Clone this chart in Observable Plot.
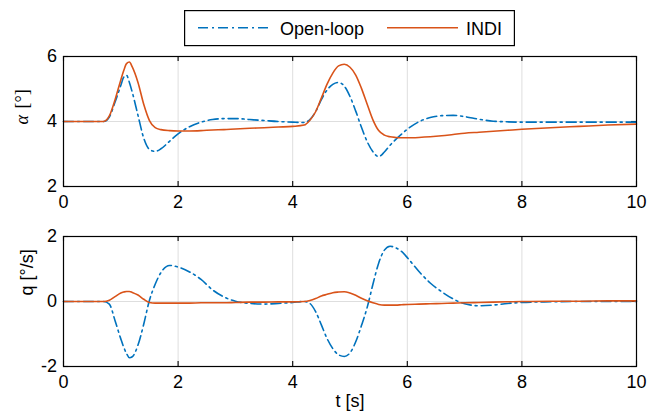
<!DOCTYPE html>
<html>
<head>
<meta charset="utf-8">
<script src="https://cdn.jsdelivr.net/npm/d3@7"></script>
<script src="https://cdn.jsdelivr.net/npm/@observablehq/plot@0.6"></script>
<style>
  html, body { margin: 0; padding: 0; background: #fff; }
  #wrap { position: relative; width: 660px; height: 414px; overflow: hidden; }
  #wrap > svg.panel { position: absolute; left: 0; margin: 0; }
  #wrap > svg#legend { position: absolute; left: 184px; top: 10px; }
</style>
</head>
<body>
<div id="wrap"></div>
<script>
// Time samples [s]
const time = [0, 0.7, 0.8, 0.9, 1.0, 1.05, 1.1, 1.15, 1.2, 1.3, 1.4, 1.5, 1.6, 1.7, 1.85, 2.0, 2.2, 2.4, 2.6, 2.8, 3.0, 3.25, 3.5, 3.75,
  4.0, 4.2, 4.3, 4.4, 4.5, 4.6, 4.7, 4.8, 4.9, 5.0, 5.1, 5.2, 5.3, 5.4, 5.5, 5.6, 5.7, 5.8, 5.9, 6.0,
  6.2, 6.4, 6.6, 6.8, 7.0, 7.25, 7.5, 7.75, 8.0, 8.5, 9.0, 9.5, 10.0];

// Angle of attack alpha [deg]
const alphaOpenLoop = [4.00, 4.00, 4.14, 4.60, 5.11, 5.36, 5.42, 5.20, 4.90, 4.19, 3.49, 3.14, 3.08, 3.16, 3.39, 3.62, 3.84, 3.98, 4.06, 4.09, 4.09, 4.06, 4.03, 4.00,
  3.98, 3.97, 4.06, 4.30, 4.67, 4.97, 5.14, 5.20, 5.09, 4.77, 4.32, 3.82, 3.38, 3.07, 2.92, 3.06, 3.27, 3.45, 3.61, 3.76,
  3.99, 4.12, 4.18, 4.19, 4.15, 4.07, 4.01, 3.99, 3.98, 3.98, 3.98, 3.98, 3.98];
const alphaIndi = [4.00, 4.00, 4.17, 4.67, 5.28, 5.56, 5.78, 5.83, 5.68, 5.20, 4.53, 4.03, 3.81, 3.75, 3.72, 3.71, 3.71, 3.72, 3.74, 3.75, 3.77, 3.79, 3.81, 3.83,
  3.85, 3.89, 4.04, 4.30, 4.72, 5.15, 5.49, 5.71, 5.76, 5.67, 5.43, 5.02, 4.53, 4.05, 3.72, 3.58, 3.53, 3.51, 3.50, 3.50,
  3.51, 3.53, 3.56, 3.60, 3.64, 3.67, 3.70, 3.73, 3.76, 3.81, 3.85, 3.89, 3.92];

// Pitch rate q [deg/s]
const qOpenLoop = [0.00, 0.00, -0.08, -0.59, -1.15, -1.40, -1.60, -1.73, -1.70, -1.34, -0.70, 0.04, 0.53, 0.89, 1.11, 1.06, 0.91, 0.68, 0.36, 0.14, 0.01, -0.06, -0.08, -0.06,
  -0.03, 0.00, -0.06, -0.31, -0.72, -1.14, -1.45, -1.64, -1.69, -1.58, -1.24, -0.74, -0.18, 0.53, 1.18, 1.58, 1.70, 1.65, 1.54, 1.35,
  0.93, 0.57, 0.30, 0.08, -0.07, -0.13, -0.11, -0.06, -0.03, -0.01, 0.00, 0.00, 0.00];
const qIndi = [0.00, 0.00, 0.04, 0.15, 0.26, 0.29, 0.31, 0.31, 0.28, 0.20, 0.07, -0.03, -0.05, -0.05, -0.05, -0.05, -0.05, -0.04, -0.04, -0.04, -0.03, -0.02, -0.02, -0.01,
  -0.01, 0.00, 0.03, 0.09, 0.17, 0.22, 0.27, 0.29, 0.30, 0.26, 0.19, 0.10, 0.02, -0.04, -0.09, -0.11, -0.11, -0.11, -0.10, -0.09,
  -0.08, -0.07, -0.06, -0.05, -0.04, -0.03, -0.02, -0.01, 0.00, 0.01, 0.01, 0.02, 0.02];

// Series, axis ticks
const seriesNames = ["Open-loop", "INDI"];
const seriesColors = ["#0072BD", "#D95319"];
const xTicks = [0, 2, 4, 6, 8, 10];
const alphaTicks = [2, 4, 6];
const qTicks = [-2, 0, 2];

const rows = time.map((t, i) => ({t, alphaOpen: alphaOpenLoop[i], alphaIndi: alphaIndi[i], qOpen: qOpenLoop[i], qIndi: qIndi[i]}));

const W = 660, ML = 63, MR = 24, TICK = 5;
const sans = "'Liberation Sans', Arial, Helvetica, sans-serif";
const serif = "'Liberation Serif', 'Times New Roman', serif";
const dashDot = "10,4,2,4";
const gridColor = "#dedede";
const plain = d => String(d);

function panel({height, marginTop, marginBottom, yDomain, yTicks, yGrid, openKey, indiKey, extra}) {
  const innerH = height - marginTop - marginBottom;
  const innerW = W - ML - MR;
  const svg = Plot.plot({
    width: W, height, marginTop, marginBottom, marginLeft: ML, marginRight: MR,
    x: {domain: [0, 10], ticks: xTicks},
    y: {domain: yDomain, ticks: yTicks},
    style: {fontFamily: sans, fontSize: "18px", color: "#000", background: "transparent", overflow: "visible"},
    marks: [
      Plot.gridX(xTicks.slice(1, -1), {stroke: gridColor, strokeOpacity: 1, strokeWidth: 1}),
      Plot.gridY(yGrid, {stroke: gridColor, strokeOpacity: 1, strokeWidth: 1}),
      // inward tick marks on all four edges
      Plot.tickX(xTicks, {x: d => d, insetTop: innerH - TICK, stroke: "#000", strokeWidth: 1.1}),
      Plot.tickX(xTicks, {x: d => d, insetBottom: innerH - TICK, stroke: "#000", strokeWidth: 1.1}),
      Plot.tickY(yTicks, {y: d => d, insetRight: innerW - TICK, stroke: "#000", strokeWidth: 1.1}),
      Plot.tickY(yTicks, {y: d => d, insetLeft: innerW - TICK, stroke: "#000", strokeWidth: 1.1}),
      Plot.axisX({ticks: xTicks, tickSize: 0, tickPadding: 9, tickFormat: plain, label: null, fontSize: 18}),
      Plot.axisY({ticks: yTicks, tickSize: 0, tickPadding: 6.5, tickFormat: plain, label: null, fontSize: 18}),
      Plot.line(rows, {x: "t", y: openKey, stroke: seriesColors[0], strokeWidth: 1.6, strokeDasharray: dashDot, curve: "monotone-x"}),
      Plot.line(rows, {x: "t", y: indiKey, stroke: seriesColors[1], strokeWidth: 1.6, curve: "monotone-x"}),
      ...extra,
      Plot.frame({stroke: "#000", strokeWidth: 1.2})
    ]
  });
  svg.classList.add("panel");
  return svg;
}

const topPlot = panel({
  height: 210, marginTop: 56, marginBottom: 24,
  yDomain: [2, 6], yTicks: alphaTicks, yGrid: [4],
  openKey: "alphaOpen", indiKey: "alphaIndi",
  extra: [
    Plot.text(["[°]"], {frameAnchor: "left", rotate: -90, lineAnchor: "bottom", dx: -36, dy: -13, fontFamily: serif, fontSize: 18}),
    Plot.text(["α"], {frameAnchor: "left", rotate: -90, lineAnchor: "bottom", dx: -36, dy: 3, fontFamily: serif, fontStyle: "italic", fontSize: 18})
  ]
});

const bottomPlot = panel({
  height: 204, marginTop: 26, marginBottom: 48,
  yDomain: [-2, 2], yTicks: qTicks, yGrid: [0],
  openKey: "qOpen", indiKey: "qIndi",
  extra: [
    Plot.text(["q [°/s]"], {frameAnchor: "left", rotate: -90, lineAnchor: "bottom", dx: -31, dy: -6, fontSize: 18}),
    Plot.text(["t [s]"], {frameAnchor: "bottom", dy: 40, fontSize: 18})
  ]
});

const wrap = document.getElementById("wrap");
topPlot.style.top = "0px";
bottomPlot.style.top = "210px";
wrap.appendChild(topPlot);
wrap.appendChild(bottomPlot);

// Legend box
const lg = d3.create("svg").attr("id", "legend").attr("width", 331).attr("height", 37);
lg.append("rect").attr("x", 0.6).attr("y", 0.6).attr("width", 329.8).attr("height", 35)
  .attr("fill", "#fff").attr("stroke", "#000").attr("stroke-width", 1.2);
const items = [
  {x0: 14, x1: 84, tx: 96, dash: dashDot},
  {x0: 203, x1: 274, tx: 282, dash: null}
];
items.forEach((it, i) => {
  lg.append("line").attr("x1", it.x0).attr("x2", it.x1).attr("y1", 17.7).attr("y2", 17.7)
    .attr("stroke", seriesColors[i]).attr("stroke-width", 1.6).attr("stroke-dasharray", it.dash);
  lg.append("text").attr("x", it.tx).attr("y", 24.5).attr("font-family", sans).attr("font-size", 18)
    .attr("fill", "#000").text(seriesNames[i]);
});
wrap.appendChild(lg.node());
</script>
</body>
</html>
